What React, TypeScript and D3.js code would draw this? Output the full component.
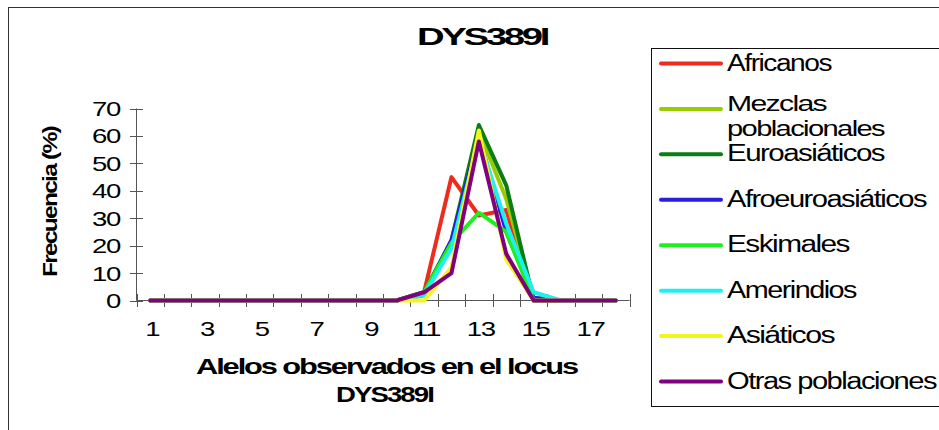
import React from "react";
import * as d3 from "d3";

const categories = [1, 2, 3, 4, 5, 6, 7, 8, 9, 10, 11, 12, 13, 14, 15, 16, 17, 18];
const tickLabels = ["1", "3", "5", "7", "9", "11", "13", "15", "17"];
const yTicks = [0, 10, 20, 30, 40, 50, 60, 70];

const seriesNames = [
  "Africanos",
  "Mezclas poblacionales",
  "Euroasiáticos",
  "Afroeuroasiáticos",
  "Eskimales",
  "Amerindios",
  "Asiáticos",
  "Otras poblaciones",
];

const africanos = [0, 0, 0, 0, 0, 0, 0, 0, 0, 0, 3, 45, 31, 33, 0, 0, 0, 0];
const mezclas = [0, 0, 0, 0, 0, 0, 0, 0, 0, 0, 2, 20, 62, 37, 1, 0, 0, 0];
const euroasiaticos = [0, 0, 0, 0, 0, 0, 0, 0, 0, 0, 3, 22, 64, 42, 0, 0, 0, 0];
const afroeuroasiaticos = [0, 0, 0, 0, 0, 0, 0, 0, 0, 0, 2, 22, 60, 25, 1, 0, 0, 0];
const eskimales = [0, 0, 0, 0, 0, 0, 0, 0, 0, 0, 3, 21, 32, 25, 0, 0, 0, 0];
const amerindios = [0, 0, 0, 0, 0, 0, 0, 0, 0, 0, 2, 19, 59, 28, 3, 0, 0, 0];
const asiaticos = [0, 0, 0, 0, 0, 0, 0, 0, 0, 0, 0, 12, 62, 15, 0, 0, 0, 0];
const otras = [0, 0, 0, 0, 0, 0, 0, 0, 0, 0, 3, 10, 58, 17, 0, 0, 0, 0];

const seriesValues = [africanos, mezclas, euroasiaticos, afroeuroasiaticos, eskimales, amerindios, asiaticos, otras];
const colors = ["#f02a1e", "#99cc00", "#0a7d14", "#2a1ee0", "#1ef01e", "#1ef0f0", "#f5f51e", "#800080"];

const legendLines = [
  ["Africanos"],
  ["Mezclas", "poblacionales"],
  ["Euroasiáticos"],
  ["Afroeuroasiáticos"],
  ["Eskimales"],
  ["Amerindios"],
  ["Asiáticos"],
  ["Otras poblaciones"],
];
const legendWidths: Record<string, number> = {
  Africanos: 104,
  Mezclas: 99,
  poblacionales: 157,
  "Euroasiáticos": 157,
  "Afroeuroasiáticos": 199,
  Eskimales: 122,
  Amerindios: 129,
  "Asiáticos": 107,
  "Otras poblaciones": 209,
};

const FONT = "'Liberation Sans', Arial, sans-serif";

export default function App() {
  const x = d3.scaleBand<number>().domain(categories).range([136.5, 629.5]).padding(0);
  const bw = x.bandwidth();
  const cx = (c: number) => (x(c) as number) + bw / 2;
  const y = d3.scaleLinear().domain([0, 70]).range([300.5, 108.5]);

  const line = d3
    .line<number>()
    .x((_, i) => cx(categories[i]))
    .y((v) => y(v));

  const boundaries = categories.map((c) => x(c) as number).concat([629.5]);
  const legendY = d3.scaleLinear().domain([0, 7]).range([63.5, 381.5]);

  return (
    <svg
      width={939}
      height={430}
      style={{ position: "absolute", left: 0, top: 0, background: "#fff" }}
      fontFamily={FONT}
    >
      <rect x={0} y={0} width={939} height={430} fill="#fff" />
      <rect x={8.5} y={7.5} width={1000} height={500} fill="none" stroke="#333" strokeWidth={1} />

      {/* title */}
      <text x={417} y={45} fontSize={23} fontWeight="bold" letterSpacing={-2} textLength={130} lengthAdjust="spacingAndGlyphs">
        DYS389I
      </text>

      {/* y axis */}
      <line x1={136.5} x2={136.5} y1={y(70)} y2={y(0)} stroke="#555" strokeWidth={1} />
      {yTicks.map((t) => (
        <g key={t}>
          <line x1={130} x2={143} y1={Math.round(y(t)) + 0.5} y2={Math.round(y(t)) + 0.5} stroke="#555" strokeWidth={1} />
          <text
            x={120}
            y={y(t) + 7.5}
            fontSize={21}
            textAnchor="end"
            letterSpacing={-1}
            textLength={String(t).length * 14}
            lengthAdjust="spacingAndGlyphs"
          >
            {t}
          </text>
        </g>
      ))}
      <text
        transform={`translate(57,202) rotate(-90)`}
        fontSize={21}
        fontWeight="bold"
        textAnchor="middle"
        letterSpacing={-1.5}
        textLength={150}
        lengthAdjust="spacingAndGlyphs"
      >
        Frecuencia (%)
      </text>

      {/* x axis */}
      <line x1={136.5} x2={629.5} y1={300.5} y2={300.5} stroke="#555" strokeWidth={1} />
      {boundaries.map((b, i) => (
        <line key={i} x1={Math.round(b) + 0.5} x2={Math.round(b) + 0.5} y1={294} y2={307} stroke="#555" strokeWidth={1} />
      ))}
      {tickLabels.map((l) => (
        <text
          key={l}
          x={cx(+l) + 2}
          y={336}
          fontSize={21}
          textAnchor="middle"
          letterSpacing={-1}
          textLength={l.length * 14}
          lengthAdjust="spacingAndGlyphs"
        >
          {l}
        </text>
      ))}
      <text x={196} y={374} fontSize={22} fontWeight="bold" letterSpacing={-1.5} textLength={381} lengthAdjust="spacingAndGlyphs">
        Alelos observados en el locus
      </text>
      <text x={336} y={402} fontSize={22} fontWeight="bold" letterSpacing={-1.5} textLength={97} lengthAdjust="spacingAndGlyphs">
        DYS389I
      </text>

      {/* series */}
      {seriesValues.map((vals, i) => (
        <path
          key={seriesNames[i]}
          d={line(vals) || ""}
          fill="none"
          stroke={colors[i]}
          strokeWidth={4}
          strokeLinejoin="round"
          strokeLinecap="round"
        />
      ))}

      {/* legend */}
      <rect x={651.5} y={48.5} width={400} height={358} fill="none" stroke="#111" strokeWidth={1} />
      {seriesNames.map((name, i) => {
        const ly = legendY(i);
        const lines = legendLines[i];
        const multi = lines.length > 1;
        return (
          <g key={name}>
            <line x1={661} x2={721} y1={ly} y2={ly} stroke={colors[i]} strokeWidth={4} strokeLinecap="round" />
            {lines.map((t, j) => (
              <text
                key={t}
                x={727}
                y={ly + (multi ? 2.5 + j * 24.2 : 7)}
                fontSize={multi ? 21.5 : 23}
                letterSpacing={-1.2}
                textLength={legendWidths[t]}
                lengthAdjust="spacingAndGlyphs"
              >
                {t}
              </text>
            ))}
          </g>
        );
      })}
    </svg>
  );
}
